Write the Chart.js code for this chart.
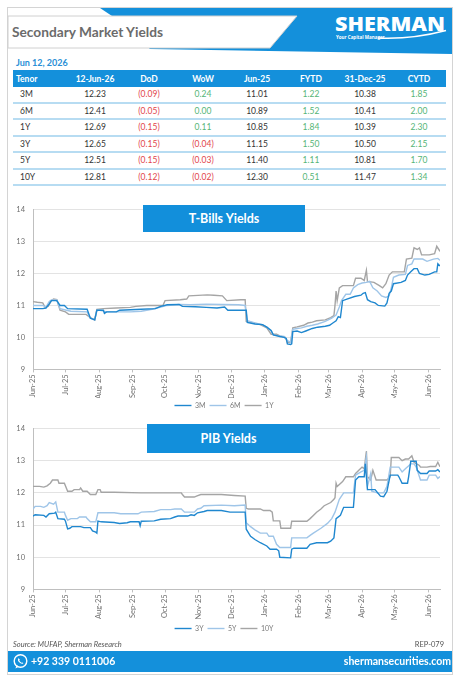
<!DOCTYPE html>
<html><head><meta charset="utf-8">
<script src="https://cdn.jsdelivr.net/npm/chart.js@4.4.1/dist/chart.umd.min.js"></script>
<style>
html,body{margin:0;padding:0;background:#fff;}
body{width:459px;height:680px;position:relative;overflow:hidden;font-family:Lato,"Open Sans",sans-serif;}
.abs{position:absolute;}
#frame{left:7px;top:7px;width:446px;height:668px;border:1.5px solid #d4d4d4;box-sizing:border-box;}
#date{left:16px;top:57px;font-size:9px;font-weight:700;color:#2a8fd6;}
table{position:absolute;left:13px;top:70px;width:433px;border-collapse:collapse;table-layout:fixed;font-size:8.5px;}
th{background:#1490db;color:#fff;font-weight:700;height:17px;padding:0;text-align:center;}
td{height:14.5px;padding:0;text-align:center;color:#333;border-bottom:2px solid #b7dcf2;}
th.t{text-align:left;padding-left:3px;}
td.t{text-align:left;padding-left:7px;}
.r{color:#e2454b;} .g{color:#55b577;}
.ttl{background:#128fdb;color:#fff;font-weight:700;font-size:12.5px;text-align:center;}
#src{left:13px;top:640px;font-size:7.5px;font-style:italic;color:#555;}
#rep{right:15px;top:640px;font-size:7.5px;color:#555;}
#foot{left:8px;top:651px;width:444px;height:21px;background:#1490db;}
#phone{left:31px;top:655px;color:#fff;font-weight:700;font-size:10.5px;}
#web{right:8px;top:655px;color:#fff;font-weight:700;font-size:10.5px;}
</style></head>
<body>
<div id="frame" class="abs"></div>
<svg class="abs" style="left:0;top:0" width="459" height="60">
  <polygon points="100,8 452,8 452,54 150,49 112,16" fill="#1490db"/>
  <polygon points="8,16 297,16 270,48 8,48" fill="#fff" stroke="#d0d0d0" stroke-width="1"/>
  <text x="12" y="37" font-family="Lato" font-weight="700" font-size="13.5" fill="#6b6b6b" textLength="151" lengthAdjust="spacingAndGlyphs">Secondary Market Yields</text>
  <text x="335" y="31" font-family="Open Sans" font-weight="800" font-size="19.5" fill="#fff" textLength="110" lengthAdjust="spacingAndGlyphs">SHERMAN</text>
  <text x="336" y="39" font-family="Open Sans" font-weight="700" font-size="4.5" fill="#fff">Your Capital Manager</text>
  <path d="M378 38 Q412 39.5 446 30.5" stroke="#fff" stroke-width="1.6" fill="none"/>
</svg>
<div id="date" class="abs">Jun 12, 2026</div>
<table>
<colgroup><col style="width:55px"><col style="width:54px"><col style="width:54px"><col style="width:54px"><col style="width:54px"><col style="width:54px"><col style="width:54px"><col style="width:54px"></colgroup>
<thead><tr id="hdr"></tr></thead>
<tbody id="tb"></tbody>
</table>

<div class="abs" style="left:8px;top:197px;width:444px;height:222px"><canvas id="c1" width="444" height="222"></canvas></div>
<div class="abs" style="left:8px;top:416px;width:444px;height:226px"><canvas id="c2" width="444" height="226"></canvas></div>
<div class="abs ttl" style="left:143px;top:205px;width:162px;height:27px;line-height:27px">T-Bills Yields</div>
<div class="abs ttl" style="left:147px;top:424px;width:163px;height:29px;line-height:29px">PIB Yields</div>

<div id="src" class="abs">Source: MUFAP, Sherman Research</div>
<div id="rep" class="abs">REP-079</div>
<div id="foot" class="abs"></div>
<svg class="abs" style="left:12px;top:653px" width="17" height="17">
  <circle cx="8.5" cy="8" r="6.3" fill="none" stroke="#fff" stroke-width="1.4"/>
  <path d="M3.5 15.5 L4.6 12 L7 13.6 Z" fill="#fff"/>
  <path d="M6 5.2 Q5.4 7.5 7.5 9.6 Q9.6 11.4 11.4 10.6 L10.6 9.4 L9.5 9.8 Q8 8.8 7.3 7.4 L7.8 6.3 Z" fill="#fff"/>
</svg>
<div id="phone" class="abs">+92 339 0111006</div>
<div id="web" class="abs">shermansecurities.com</div>

<script>
// ---------- table data ----------
const tableHeaders=['Tenor','12-Jun-26','DoD','WoW','Jun-25','FYTD','31-Dec-25','CYTD'];
const tenors=['3M','6M','1Y','3Y','5Y','10Y'];
const yieldNow=['12.23','12.41','12.69','12.65','12.51','12.81'];
const dod=['(0.09)','(0.05)','(0.15)','(0.15)','(0.15)','(0.12)'];
const wow=['0.24','0.00','0.11','(0.04)','(0.03)','(0.02)'];
const yieldJun25=['11.01','10.89','10.85','11.15','11.40','12.30'];
const fytd=['1.22','1.52','1.84','1.50','1.11','0.51'];
const yieldDec25=['10.38','10.41','10.39','10.50','10.81','11.47'];
const cytd=['1.85','2.00','2.30','2.15','1.70','1.34'];

// ---------- chart axis data ----------
const monthDays=[0,30,61,92,122,153,183,214,245,273,304,334,365];
const monthLabels=['Jun-25','Jul-25','Aug-25','Sep-25','Oct-25','Nov-25','Dec-25','Jan-26','Feb-26','Mar-26','Apr-26','May-26','Jun-26'];
const lastDay=376;

// ---------- T-Bills series (day offset from 1-Jun-25, yield %) ----------
const tb3mDays=[0,9,12,15,17,22,25,29,32,50,53,57,59,65,66,68,77,80,100,113,118,124,135,138,150,160,170,177,180,197,198,205,212,216,220,222,228,232,234,235,238,239,240,244,248,252,258,263,270,274,277,280,282,284,286,290,297,303,305,307,309,312,316,319,325,327,329,331,333,340,344,346,349,352,355,357,362,366,371,373,374,376];
const tb3mVals=[10.90,10.90,10.92,11.05,11.15,11.15,11.00,11.00,10.90,10.88,10.60,10.55,10.85,10.85,10.75,10.80,10.80,10.85,10.88,10.90,10.97,11.02,11.03,10.97,10.96,10.94,10.92,10.95,10.85,10.85,10.47,10.42,10.40,10.32,10.22,10.08,10.03,10.00,9.97,9.80,9.78,9.80,10.18,10.20,10.15,10.20,10.28,10.32,10.35,10.38,10.45,10.52,10.65,10.62,11.15,11.20,11.28,11.32,11.38,11.40,11.18,11.12,11.08,11.00,10.98,11.08,11.38,11.45,11.68,11.72,11.78,11.95,12.05,12.15,12.15,12.00,11.95,11.97,12.05,12.05,12.30,12.23];
const tb6mDays=[0,9,12,15,17,22,25,31,35,50,53,57,59,62,68,90,100,110,118,124,135,145,160,175,190,196,198,205,212,216,220,222,228,232,235,238,240,244,248,253,258,263,270,276,280,283,285,289,293,296,300,304,308,311,314,318,322,326,329,331,333,338,344,346,350,352,360,364,370,374,376];
const tb6mVals=[11.00,11.00,10.95,11.12,11.17,11.17,10.90,10.85,10.82,10.80,10.60,10.55,10.85,10.85,10.80,10.80,10.82,10.88,10.95,11.00,11.03,11.02,11.04,11.03,11.02,11.00,10.52,10.45,10.40,10.32,10.20,10.08,10.05,10.03,9.90,9.85,10.25,10.28,10.30,10.35,10.38,10.42,10.50,10.60,10.70,10.95,11.15,11.35,11.35,11.55,11.65,11.70,11.72,11.75,11.55,11.45,11.30,11.25,11.30,11.55,11.88,11.95,11.97,12.25,12.30,12.45,12.45,12.38,12.45,12.47,12.41];
const tb1yDays=[0,4,9,11,14,17,19,22,25,30,33,49,53,57,59,65,77,90,95,105,120,122,136,142,144,161,167,175,179,192,196,197,204,210,216,220,225,228,233,235,238,240,244,250,254,258,262,270,275,278,279,280,281,283,286,296,298,303,306,308,309,315,320,323,326,329,332,343,345,350,352,355,357,359,366,371,373,376];
const tb1yVals=[11.12,11.10,11.08,10.95,10.97,11.15,11.20,11.18,10.85,10.80,10.72,10.72,10.62,10.55,10.88,10.90,10.92,10.94,10.97,11.00,11.00,11.15,11.18,11.20,11.30,11.33,11.32,11.30,11.15,11.18,11.18,10.50,10.45,10.40,10.30,10.10,10.10,10.05,10.00,9.85,9.85,10.30,10.33,10.38,10.45,10.48,10.52,10.55,10.62,10.68,11.00,11.45,11.15,11.55,11.62,11.62,11.85,11.85,11.78,12.10,11.75,11.72,11.62,11.55,11.68,11.95,12.05,12.05,12.45,12.48,12.80,12.75,12.80,12.58,12.58,12.62,12.85,12.69];

// ---------- PIB series ----------
const pib3yDays=[0,2,10,12,15,20,21,23,29,30,32,34,36,44,47,53,55,58,59,60,63,75,80,87,90,98,99,100,112,118,127,131,134,143,146,149,152,158,161,174,182,196,197,201,205,210,216,219,225,227,228,238,239,241,253,256,262,272,275,278,280,284,287,296,298,301,306,307,309,316,321,324,327,330,337,338,341,346,347,349,354,355,358,364,366,372,374,376];
const pib3yVals=[11.28,11.32,11.30,11.25,11.35,11.37,11.40,11.20,11.18,11.12,10.88,10.90,10.95,10.95,10.92,10.92,10.82,10.78,10.75,11.12,11.10,11.08,11.05,11.07,11.10,11.10,10.98,11.12,11.13,11.18,11.20,11.25,11.28,11.28,11.32,11.30,11.38,11.42,11.45,11.45,11.40,11.40,10.87,10.65,10.55,10.45,10.35,10.25,10.25,10.20,10.00,9.98,10.25,10.28,10.28,10.40,10.45,10.45,10.50,10.60,11.20,11.30,11.55,11.55,12.40,12.50,12.50,12.90,12.10,12.10,11.90,11.88,12.05,12.55,12.55,12.50,12.30,12.30,12.50,12.98,12.98,12.70,12.60,12.60,12.68,12.68,12.72,12.65];
const pib5yDays=[0,2,7,10,13,15,19,21,23,29,30,32,35,41,43,49,50,53,58,60,75,81,97,100,112,118,127,131,137,140,149,152,155,158,174,186,196,197,201,205,210,216,218,222,225,228,238,239,253,256,259,266,272,276,279,283,287,296,298,303,306,308,309,312,313,318,324,327,330,338,341,344,349,352,354,355,358,364,366,372,374,376];
const pib5yVals=[11.50,11.58,11.58,11.55,11.60,11.70,11.65,11.72,11.40,11.40,11.30,11.15,11.20,11.20,11.25,11.25,11.20,11.10,11.10,11.38,11.38,11.35,11.35,11.40,11.42,11.48,11.48,11.50,11.50,11.40,11.40,11.50,11.52,11.60,11.62,11.60,11.62,11.07,10.95,10.85,10.75,10.75,10.65,10.65,10.40,10.30,10.30,10.60,10.60,10.68,10.75,10.90,11.05,11.20,11.40,11.80,12.00,12.00,12.55,12.65,12.70,13.10,12.20,12.60,12.05,12.00,12.00,12.20,12.80,12.80,12.65,12.75,12.90,12.90,12.80,12.70,12.40,12.40,12.55,12.55,12.45,12.51];
const pib10yDays=[0,6,10,13,16,18,23,24,29,32,36,38,43,44,46,50,53,58,60,62,63,75,100,137,138,140,149,151,155,174,186,196,197,199,210,213,219,221,222,228,229,238,239,253,256,259,262,266,269,275,278,279,280,281,286,289,296,298,301,304,306,308,309,312,314,317,327,330,331,338,341,344,347,350,352,357,358,364,367,372,374,376];
const pib10yVals=[12.20,12.20,12.18,12.22,12.30,12.40,12.40,12.30,12.30,12.05,12.05,12.10,12.10,12.15,12.05,12.05,11.95,11.95,12.10,12.10,12.02,12.02,12.00,12.00,11.95,11.87,11.87,11.90,11.95,11.95,11.92,11.90,11.52,11.50,11.50,11.45,11.45,11.40,11.13,11.13,10.90,10.90,11.12,11.12,11.20,11.30,11.40,11.50,11.60,11.70,11.80,11.85,12.30,12.20,12.35,12.50,12.50,12.60,12.70,12.80,12.75,13.30,12.50,12.40,12.70,12.40,12.40,12.50,13.10,13.10,13.00,13.05,13.05,13.15,12.95,12.85,12.80,12.80,12.82,12.82,12.95,12.81];

// ---------- build table ----------
const hdr=document.getElementById('hdr');
tableHeaders.forEach((h,i)=>{const th=document.createElement('th');th.textContent=h;if(i===0)th.className='t';hdr.appendChild(th);});
const cls=v=>v.startsWith('(')?'r':'g';
const tb=document.getElementById('tb');
tenors.forEach((t,i)=>{
  const tr=document.createElement('tr');
  const cells=[[t,'t'],[yieldNow[i],''],[dod[i],cls(dod[i])],[wow[i],cls(wow[i])],[yieldJun25[i],''],[fytd[i],cls(fytd[i])],[yieldDec25[i],''],[cytd[i],cls(cytd[i])]];
  cells.forEach(([v,c])=>{const td=document.createElement('td');td.textContent=v;if(c)td.className=c;tr.appendChild(td);});
  tb.appendChild(tr);
});

// ---------- charts ----------
const pts=(d,v)=>d.map((x,i)=>({x:x,y:v[i]}));
const COLORS=['#1f87cf','#9fc5e8','#a5a5a5'];
function makeChart(id,names,series,xh){
  new Chart(document.getElementById(id),{
    type:'line',
    data:{datasets:series.map((s,i)=>({label:names[i],data:pts(s[0],s[1]),borderColor:COLORS[i],backgroundColor:COLORS[i],borderWidth:1.4,pointRadius:0,tension:0,fill:false}))},
    options:{
      responsive:false,animation:false,
      layout:{padding:{top:8,right:12,left:0,bottom:0}},
      plugins:{
        tooltip:{enabled:false},
        legend:{position:'bottom',labels:{usePointStyle:true,pointStyle:'line',pointStyleWidth:17,boxHeight:7,padding:4,color:'#7a7a7a',font:{size:7,family:'Lato'}}}
      },
      scales:{
        x:{type:'linear',min:0,max:lastDay,
          afterBuildTicks:(sc)=>{sc.ticks=monthDays.map(v=>({value:v}));},
          afterFit:(sc)=>{sc.height=xh;},
          ticks:{autoSkip:false,minRotation:90,maxRotation:90,padding:2,color:'#6f6f6f',font:{size:7.5,family:'Lato'},callback:(v,i)=>monthLabels[i]},
          grid:{drawOnChartArea:false,tickLength:3,color:'#bfbfbf'},
          border:{color:'#bfbfbf'}},
        y:{min:9,max:14,
          afterFit:(sc)=>{sc.width=25;},
          ticks:{stepSize:1,padding:8,color:'#6f6f6f',font:{size:7.5,family:'Lato'}},
          grid:{color:'#e3e3e3',drawTicks:false},
          border:{color:'#bfbfbf'}}
      }
    }
  });
}
makeChart('c1',['3M','6M','1Y'],[[tb3mDays,tb3mVals],[tb6mDays,tb6mVals],[tb1yDays,tb1yVals]],28.6);
makeChart('c2',['3Y','5Y','10Y'],[[pib3yDays,pib3yVals],[pib5yDays,pib5yVals],[pib10yDays,pib10yVals]],31.6);
</script>
</body></html>
